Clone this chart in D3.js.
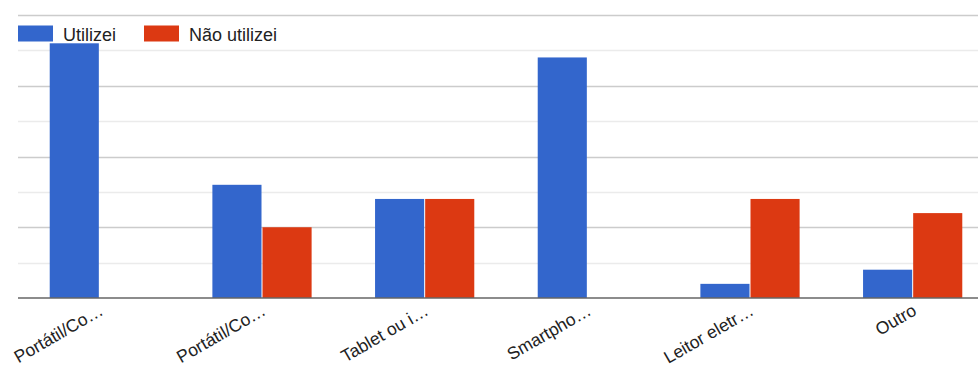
<html>
<head>
<meta charset="utf-8">
<script src="https://d3js.org/d3.v7.min.js"></script>
<style>
  body { margin: 0; background: #fff; }
  text { font-family: Arial, "Liberation Sans", sans-serif; fill: #222; }
</style>
</head>
<body>
<script>
const categories = ["Portátil/Co…", "Portátil/Co…", "Tablet ou i…", "Smartpho…", "Leitor eletr…", "Outro"];
const seriesNames = ["Utilizei", "Não utilizei"];
const utilizei = [18, 8, 7, 17, 1, 2];
const naoUtilizei = [0, 5, 7, 0, 7, 6];
const colors = ["#3366cc", "#dc3912"];
const yTicks = [0, 2.5, 5, 7.5, 10, 12.5, 15, 17.5, 20];

const width = 978, height = 365;
const svg = d3.select("body").append("svg")
  .attr("width", width)
  .attr("height", height);

const x = d3.scaleBand()
  .domain(d3.range(categories.length))
  .range([18, 994])
  .paddingInner(0.39)
  .paddingOuter(0.195);

const xs = d3.scaleBand()
  .domain(seriesNames)
  .range([0, x.bandwidth()])
  .paddingInner(0.02);

const y = d3.scaleLinear().domain([0, 20]).range([298, 15]);

// gridlines
svg.append("g")
  .selectAll("line")
  .data(yTicks.filter(d => d > 0))
  .enter()
  .append("line")
  .attr("x1", 18)
  .attr("x2", width)
  .attr("y1", d => Math.round(y(d)) + 0.5)
  .attr("y2", d => Math.round(y(d)) + 0.5)
  .attr("stroke", d => d % 5 === 0 ? "#cccccc" : "#ebebeb")
  .attr("stroke-width", 1.5);

// bars
const rows = categories.map((c, i) => ({ i, values: [utilizei[i], naoUtilizei[i]] }));
const groups = svg.append("g")
  .selectAll("g")
  .data(rows)
  .enter()
  .append("g")
  .attr("transform", d => `translate(${x(d.i)},0)`);

groups.selectAll("rect")
  .data(d => d.values.map((v, k) => ({ v, k })))
  .enter()
  .append("rect")
  .attr("x", d => xs(seriesNames[d.k]))
  .attr("width", xs.bandwidth())
  .attr("y", d => y(d.v))
  .attr("height", d => y(0) - y(d.v))
  .attr("fill", d => colors[d.k]);

// baseline
svg.append("line")
  .attr("x1", 18)
  .attr("x2", width)
  .attr("y1", y(0))
  .attr("y2", y(0))
  .attr("stroke", "#666")
  .attr("stroke-width", 1.5);

// category labels
svg.append("g")
  .selectAll("text")
  .data(categories)
  .enter()
  .append("text")
  .attr("transform", (d, i) => `translate(${x(i) + x.bandwidth() / 2 + 5},${314}) rotate(-30)`)
  .attr("text-anchor", "end")
  .attr("font-size", 17.5)
  .text(d => d);

// legend
const legendX = [18, 144];
const legend = svg.append("g");
legend.selectAll("rect")
  .data(seriesNames)
  .enter()
  .append("rect")
  .attr("x", (d, i) => legendX[i])
  .attr("y", 25.5)
  .attr("width", 35)
  .attr("height", 16)
  .attr("fill", (d, i) => colors[i]);
legend.selectAll("text")
  .data(seriesNames)
  .enter()
  .append("text")
  .attr("x", (d, i) => legendX[i] + 45)
  .attr("y", 41)
  .attr("font-size", 18)
  .text(d => d);
</script>
</body>
</html>
